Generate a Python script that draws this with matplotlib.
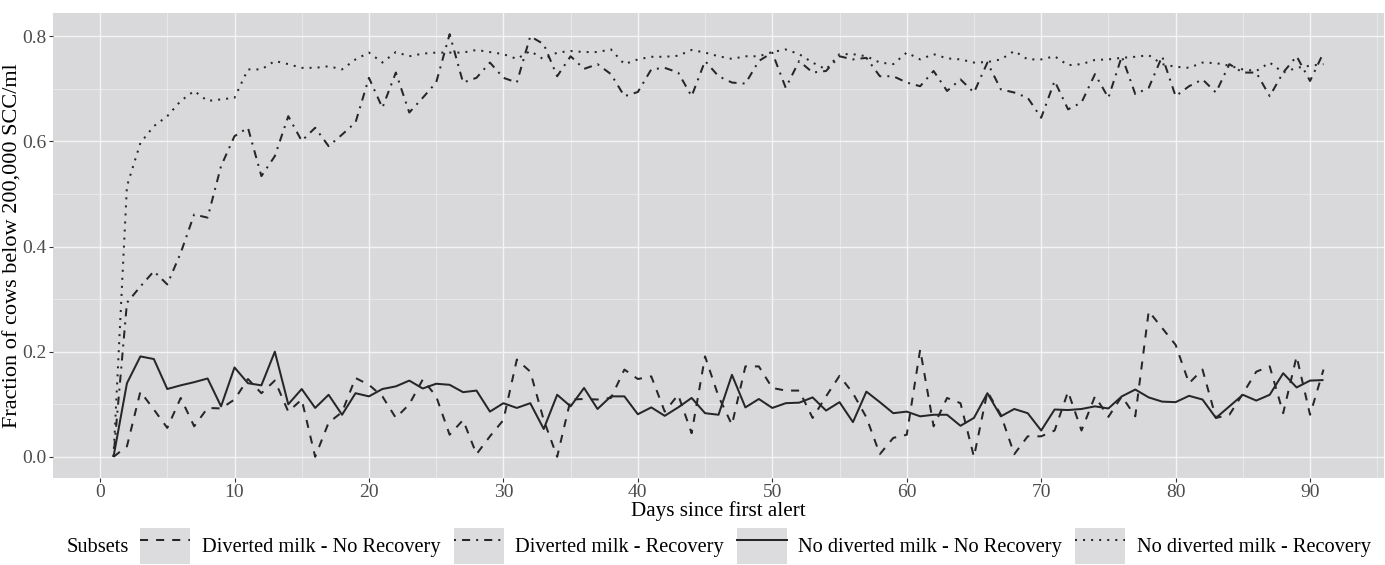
import matplotlib
matplotlib.use("Agg")
import matplotlib.pyplot as plt
from matplotlib.patches import Rectangle
from matplotlib.lines import Line2D
from matplotlib.legend_handler import HandlerTuple
from matplotlib.ticker import MultipleLocator, FormatStrFormatter

plt.rcParams['font.family'] = ['Liberation Serif', 'DejaVu Serif']

days = list(range(1, 92))

# Diverted milk - No Recovery (dashed)
div_no_rec = [
    0.000, 0.020, 0.124, 0.090, 0.055, 0.112, 0.058, 0.093, 0.092, 0.109,
    0.148, 0.121, 0.145, 0.086, 0.109, 0.000, 0.065, 0.085, 0.150, 0.137,
    0.115, 0.074, 0.100, 0.147, 0.115, 0.042, 0.070, 0.005, 0.039, 0.070,
    0.185, 0.162, 0.070, 0.000, 0.109, 0.110, 0.109, 0.112, 0.166, 0.148,
    0.153, 0.086, 0.118, 0.045, 0.191, 0.115, 0.061, 0.172, 0.172, 0.131,
    0.126, 0.126, 0.074, 0.115, 0.154, 0.121, 0.075, 0.005, 0.036, 0.042,
    0.204, 0.058, 0.112, 0.102, 0.000, 0.124, 0.080, 0.005, 0.039, 0.039,
    0.050, 0.124, 0.050, 0.115, 0.076, 0.115, 0.077, 0.277, 0.245, 0.213,
    0.140, 0.166, 0.074, 0.080, 0.120, 0.162, 0.172, 0.083, 0.191, 0.080,
    0.166]

# Diverted milk - Recovery (dot-dash)
div_rec = [
    0.000, 0.293, 0.324, 0.353, 0.328, 0.388, 0.461, 0.455, 0.553, 0.610,
    0.626, 0.534, 0.572, 0.648, 0.601, 0.626, 0.591, 0.613, 0.636, 0.721,
    0.664, 0.731, 0.655, 0.683, 0.712, 0.804, 0.712, 0.721, 0.750, 0.721,
    0.712, 0.800, 0.785, 0.724, 0.762, 0.738, 0.747, 0.728, 0.686, 0.694,
    0.737, 0.740, 0.731, 0.686, 0.753, 0.724, 0.712, 0.710, 0.753, 0.769,
    0.702, 0.753, 0.731, 0.734, 0.762, 0.756, 0.759, 0.724, 0.724, 0.712,
    0.705, 0.734, 0.696, 0.718, 0.693, 0.750, 0.699, 0.693, 0.683, 0.645,
    0.715, 0.661, 0.674, 0.728, 0.683, 0.762, 0.690, 0.702, 0.762, 0.686,
    0.705, 0.718, 0.693, 0.747, 0.731, 0.731, 0.686, 0.731, 0.762, 0.715,
    0.769]

# No diverted milk - No Recovery (solid)
nodiv_no_rec = [
    0.000, 0.140, 0.191, 0.186, 0.129, 0.136, 0.142, 0.149, 0.096, 0.170,
    0.140, 0.136, 0.200, 0.100, 0.129, 0.093, 0.118, 0.080, 0.121, 0.115,
    0.129, 0.134, 0.145, 0.130, 0.139, 0.137, 0.123, 0.126, 0.086, 0.102,
    0.093, 0.102, 0.053, 0.118, 0.096, 0.131, 0.091, 0.115, 0.115, 0.081,
    0.094, 0.078, 0.094, 0.112, 0.083, 0.080, 0.156, 0.094, 0.110, 0.093,
    0.102, 0.103, 0.113, 0.088, 0.104, 0.066, 0.124, 0.104, 0.083, 0.086,
    0.077, 0.080, 0.080, 0.059, 0.074, 0.121, 0.077, 0.091, 0.083, 0.050,
    0.090, 0.089, 0.091, 0.096, 0.092, 0.115, 0.128, 0.113, 0.105, 0.104,
    0.116, 0.109, 0.074, 0.096, 0.118, 0.107, 0.118, 0.159, 0.132, 0.145,
    0.146]

# No diverted milk - Recovery (dotted)
nodiv_rec = [
    0.000, 0.515, 0.597, 0.629, 0.648, 0.677, 0.696, 0.677, 0.680, 0.683,
    0.737, 0.737, 0.753, 0.747, 0.740, 0.740, 0.743, 0.737, 0.756, 0.769,
    0.750, 0.770, 0.762, 0.767, 0.769, 0.769, 0.769, 0.774, 0.770, 0.766,
    0.757, 0.772, 0.756, 0.769, 0.772, 0.770, 0.770, 0.775, 0.747, 0.756,
    0.761, 0.761, 0.763, 0.774, 0.769, 0.762, 0.757, 0.762, 0.762, 0.770,
    0.775, 0.766, 0.750, 0.737, 0.766, 0.766, 0.762, 0.750, 0.747, 0.769,
    0.756, 0.766, 0.758, 0.756, 0.750, 0.751, 0.756, 0.772, 0.756, 0.756,
    0.762, 0.745, 0.747, 0.755, 0.756, 0.759, 0.761, 0.764, 0.747, 0.742,
    0.740, 0.750, 0.749, 0.744, 0.737, 0.734, 0.750, 0.731, 0.740, 0.744,
    0.747]

labels = ['Diverted milk - No Recovery', 'Diverted milk - Recovery',
          'No diverted milk - No Recovery', 'No diverted milk - Recovery']
series = [div_no_rec, div_rec, nodiv_no_rec, nodiv_rec]
dash_styles = [(0, (4, 4)), (0, (1, 3, 4, 3)), '-', (0, (1, 3))]

line_color = '#262626'
panel_bg = '#d9d9db'
lw = 1.45

fig = plt.figure(figsize=(13.85, 5.65), dpi=100)
ax = fig.add_axes([53 / 1385, 1 - 478 / 565, 1331 / 1385, 465 / 565])
ax.set_facecolor(panel_bg)

for vals, ls in zip(series, dash_styles):
    ax.plot(days, vals, color=line_color, linestyle=ls, linewidth=lw,
            solid_capstyle='butt', dash_capstyle='butt')

ax.set_xlim(-3.5, 95.5)
ax.set_ylim(-0.0403, 0.8443)
ax.xaxis.set_major_locator(MultipleLocator(10))
ax.xaxis.set_minor_locator(MultipleLocator(5))
ax.yaxis.set_major_locator(MultipleLocator(0.2))
ax.yaxis.set_minor_locator(MultipleLocator(0.1))
ax.yaxis.set_major_formatter(FormatStrFormatter('%.1f'))

ax.grid(which='major', color='#f4f4f4', linewidth=1.0)
ax.grid(which='minor', color='#eeeeee', linewidth=0.5)
ax.set_axisbelow(True)
for s in ax.spines.values():
    s.set_visible(False)

ax.tick_params(which='major', length=3, width=0.8, color='#333333',
               labelsize=14, labelcolor='#4d4d4d', pad=1.5)
ax.tick_params(which='minor', length=0)

ax.set_xlabel('Days since first alert', fontsize=15.2, color='black')
ax.xaxis.set_label_coords(0.5, -(511 - 478) / 465, transform=ax.transAxes)
ax.xaxis.label.set_va('center')
ax.set_ylabel('Fraction of cows below 200,000 SCC/ml', fontsize=16,
              color='black')
ax.yaxis.set_label_coords(-(53 - 13) / 1331, 0.5, transform=ax.transAxes)
ax.yaxis.label.set_va('center')

# legend: grey key boxes with line samples
handles = []
for ls in dash_styles:
    box = Rectangle((0, 0), 1, 1, facecolor='#dcdcde', edgecolor='none')
    ln = Line2D([0], [0], color=line_color, linestyle=ls, linewidth=lw)
    handles.append((box, ln))

fig.text(67 / 1385, 1 - 547 / 565, 'Subsets', fontsize=14.7, ha='left',
         va='center', color='black')
fig.legend(handles, labels, ncol=4, loc='center',
           bbox_to_anchor=(755.5 / 1385, 1 - 546 / 565),
           handler_map={tuple: HandlerTuple(ndivide=1, pad=0)},
           frameon=False, fontsize=14.7, handlelength=2.45, handleheight=2.4,
           handletextpad=0.55, columnspacing=0.65, borderpad=0, borderaxespad=0)

fig.savefig('out.png', dpi=100)
